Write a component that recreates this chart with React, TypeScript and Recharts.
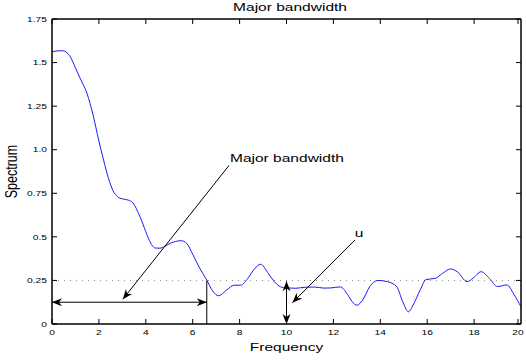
import React from "react";
import {
  Label,
  Line,
  LineChart,
  ReferenceDot,
  ReferenceLine,
  XAxis,
  YAxis,
} from "recharts";

// spectrum, frequency -> amplitude
const freq = [
  0, 0.25, 0.45, 0.75, 1.0, 1.2, 1.5, 1.75, 2.0, 2.2, 2.4, 2.6, 2.8, 3.0, 3.25,
  3.45, 3.75, 4.0, 4.15, 4.4, 4.6, 4.8, 5.05, 5.5, 5.75, 6.0, 6.3, 6.6, 6.85,
  7.1, 7.45, 7.75, 8.05, 8.35, 8.6, 8.9, 9.2, 9.45, 9.75, 10.0, 10.4, 10.8,
  11.2, 11.6, 11.9, 12.3, 12.6, 12.85, 13.0, 13.25, 13.55, 13.9, 14.3, 14.7,
  14.95, 15.2, 15.4, 15.7, 15.95, 16.35, 16.65, 17.0, 17.3, 17.7, 17.95, 18.3,
  18.65, 19.0, 19.4, 19.7, 20.0,
];
const spectrum = [
  1.562, 1.567, 1.568, 1.54, 1.47, 1.41, 1.32, 1.2, 1.05, 0.94, 0.84, 0.765,
  0.73, 0.718, 0.711, 0.695, 0.616, 0.53, 0.48, 0.436, 0.435, 0.445, 0.463,
  0.478, 0.462, 0.4, 0.32, 0.252, 0.19, 0.162, 0.195, 0.222, 0.223, 0.262,
  0.31, 0.343, 0.295, 0.248, 0.213, 0.207, 0.205, 0.211, 0.212, 0.206, 0.207,
  0.213, 0.17, 0.12, 0.108, 0.138, 0.214, 0.25, 0.243, 0.214, 0.13, 0.07,
  0.109, 0.195, 0.255, 0.262, 0.29, 0.316, 0.298, 0.243, 0.262, 0.3, 0.262,
  0.215, 0.224, 0.17, 0.098,
];

const xTicks = [0, 2, 4, 6, 8, 10, 12, 14, 16, 18, 20];
const yTicks = [0, 0.25, 0.5, 0.75, 1, 1.25, 1.5, 1.75];
const yTickLabels = ["0", "0.25", "0.5", "0.75", "1.0", "1.25", "1.5", "1.75"];

// annotation anchors (data units)
const threshold = 0.25;
const bandEdge = 6.6;
const bandArrowY = 0.125;
const uFreq = 10;
const uTop = 0.245;
const titlePos = { x: 10.15, y: 1.75 };
const bwText = { x: 7.59, y: 0.929 };
const bwArrow = [{ x: 7.55, y: 0.91 }, { x: 3.02, y: 0.142 }];
const uText = { x: 13.09, y: 0.497 };
const uArrow = [{ x: 12.92, y: 0.482 }, { x: 10.25, y: 0.122 }];

const data = freq.map((f, i) => ({ f, s: spectrum[i] }));

const FONT = '"Liberation Sans", Arial, Helvetica, sans-serif';
const SX = 1.35; // the reference text is stretched sideways
const TICK = 5;

function StretchText({ x, y, size, anchor = "middle", rotate = 0, children }: any) {
  const rot = rotate ? ` rotate(${rotate})` : "";
  return (
    <text
      transform={`translate(${x},${y}) scale(${SX},1)${rot}`}
      fontSize={size}
      fontFamily={FONT}
      textAnchor={anchor}
      fill="#000"
    >
      {children}
    </text>
  );
}

function head(tx: number, ty: number, fx: number, fy: number) {
  const dx = tx - fx;
  const dy = ty - fy;
  const len = Math.hypot(dx, dy) || 1;
  const ux = dx / len;
  const uy = dy / len;
  const nx = -uy;
  const ny = ux;
  const L = 10, W = 4, B = 7;
  const pts = [
    [tx, ty],
    [tx - L * ux + W * nx, ty - L * uy + W * ny],
    [tx - B * ux, ty - B * uy],
    [tx - L * ux - W * nx, ty - L * uy - W * ny],
  ];
  return <polygon points={pts.map((p) => p.join(",")).join(" ")} fill="#000" />;
}

const arrow = (both: boolean) => (p: any) => (
  <g>
    <line x1={p.x1} y1={p.y1} x2={p.x2} y2={p.y2} stroke="#000" strokeWidth={1} />
    {head(p.x2, p.y2, p.x1, p.y1)}
    {both && head(p.x1, p.y1, p.x2, p.y2)}
  </g>
);

// ticks point inward, so each tick draws its own mark
const XTick = (p: any) => (
  <g>
    <line x1={p.x} y1={p.y} x2={p.x} y2={p.y - TICK} stroke="#000" />
    <StretchText x={p.x} y={p.y + 11} size={7.6}>
      {p.payload.value}
    </StretchText>
  </g>
);
const YTick = (p: any) => (
  <g>
    <line x1={p.x} y1={p.y} x2={p.x + TICK} y2={p.y} stroke="#000" />
    <StretchText x={p.x - 5} y={p.y + 2.7} size={7.6} anchor="end">
      {yTickLabels[yTicks.indexOf(p.payload.value)]}
    </StretchText>
  </g>
);
const TopTick = (p: any) => (
  <line x1={p.x} y1={p.y} x2={p.x} y2={p.y + TICK} stroke="#000" />
);
const RightTick = (p: any) => (
  <line x1={p.x} y1={p.y} x2={p.x - TICK} y2={p.y} stroke="#000" />
);

const box = { stroke: "#000", strokeWidth: 1.5 };

export default function App() {
  return (
    <div style={{ position: "absolute", left: 0, top: 0, background: "#fff" }}>
      <LineChart
        width={526}
        height={360}
        data={data}
        margin={{ top: 18, right: 4, bottom: 0, left: 0 }}
      >
        <XAxis
          dataKey="f"
          type="number"
          domain={[0, 20]}
          ticks={xTicks}
          height={36}
          tickSize={0}
          tickMargin={0}
          tickLine={false}
          tick={XTick}
          axisLine={box}
          allowDataOverflow
        >
          <Label
            content={(p: any) => (
              <StretchText x={p.viewBox.x + p.viewBox.width / 2} y={p.viewBox.y + 27} size={11.5}>
                Frequency
              </StretchText>
            )}
          />
        </XAxis>
        <XAxis
          xAxisId="top"
          orientation="top"
          dataKey="f"
          type="number"
          domain={[0, 20]}
          ticks={xTicks}
          height={1}
          tickSize={0}
          tickMargin={0}
          tickLine={false}
          tick={TopTick}
          axisLine={box}
          allowDataOverflow
        />
        <YAxis
          type="number"
          domain={[0, 1.75]}
          ticks={yTicks}
          width={52}
          tickSize={0}
          tickMargin={0}
          tickLine={false}
          tick={YTick}
          axisLine={box}
          allowDataOverflow
        >
          <Label
            content={(p: any) => (
              <StretchText x={17} y={p.viewBox.y + p.viewBox.height / 2} size={12.5} rotate={-90}>
                Spectrum
              </StretchText>
            )}
          />
        </YAxis>
        <YAxis
          yAxisId="right"
          orientation="right"
          type="number"
          domain={[0, 1.75]}
          ticks={yTicks}
          width={1}
          tickSize={0}
          tickMargin={0}
          tickLine={false}
          tick={RightTick}
          axisLine={box}
          allowDataOverflow
        />

        <ReferenceLine y={threshold} stroke="#888" strokeDasharray="1 5" strokeWidth={1} />

        {/* invisible twin so the top and right axes are in use */}
        <Line
          dataKey="s"
          xAxisId="top"
          yAxisId="right"
          stroke="none"
          dot={false}
          activeDot={false}
          isAnimationActive={false}
        />
        <Line
          dataKey="s"
          type="monotone"
          stroke="#1a1aff"
          strokeWidth={1}
          dot={false}
          isAnimationActive={false}
        />

        <ReferenceLine
          segment={[{ x: bandEdge, y: 0 }, { x: bandEdge, y: threshold }]}
          stroke="#000"
          strokeWidth={1}
          ifOverflow="visible"
        />
        <ReferenceLine
          segment={[{ x: 0, y: bandArrowY }, { x: bandEdge, y: bandArrowY }]}
          shape={arrow(true)}
          ifOverflow="visible"
        />
        <ReferenceLine
          segment={[{ x: uFreq, y: 0 }, { x: uFreq, y: uTop }]}
          shape={arrow(true)}
          ifOverflow="visible"
        />
        <ReferenceLine segment={bwArrow} shape={arrow(false)} ifOverflow="visible" />
        <ReferenceLine segment={uArrow} shape={arrow(false)} ifOverflow="visible" />

        <ReferenceDot
          x={titlePos.x}
          y={titlePos.y}
          ifOverflow="visible"
          shape={(p: any) => (
            <StretchText x={p.cx} y={p.cy - 8} size={11.5}>
              Major bandwidth
            </StretchText>
          )}
        />
        <ReferenceDot
          x={bwText.x}
          y={bwText.y}
          ifOverflow="visible"
          shape={(p: any) => (
            <StretchText x={p.cx} y={p.cy} size={11.5} anchor="start">
              Major bandwidth
            </StretchText>
          )}
        />
        <ReferenceDot
          x={uText.x}
          y={uText.y}
          ifOverflow="visible"
          shape={(p: any) => (
            <StretchText x={p.cx} y={p.cy} size={11.5}>
              u
            </StretchText>
          )}
        />
      </LineChart>
    </div>
  );
}
